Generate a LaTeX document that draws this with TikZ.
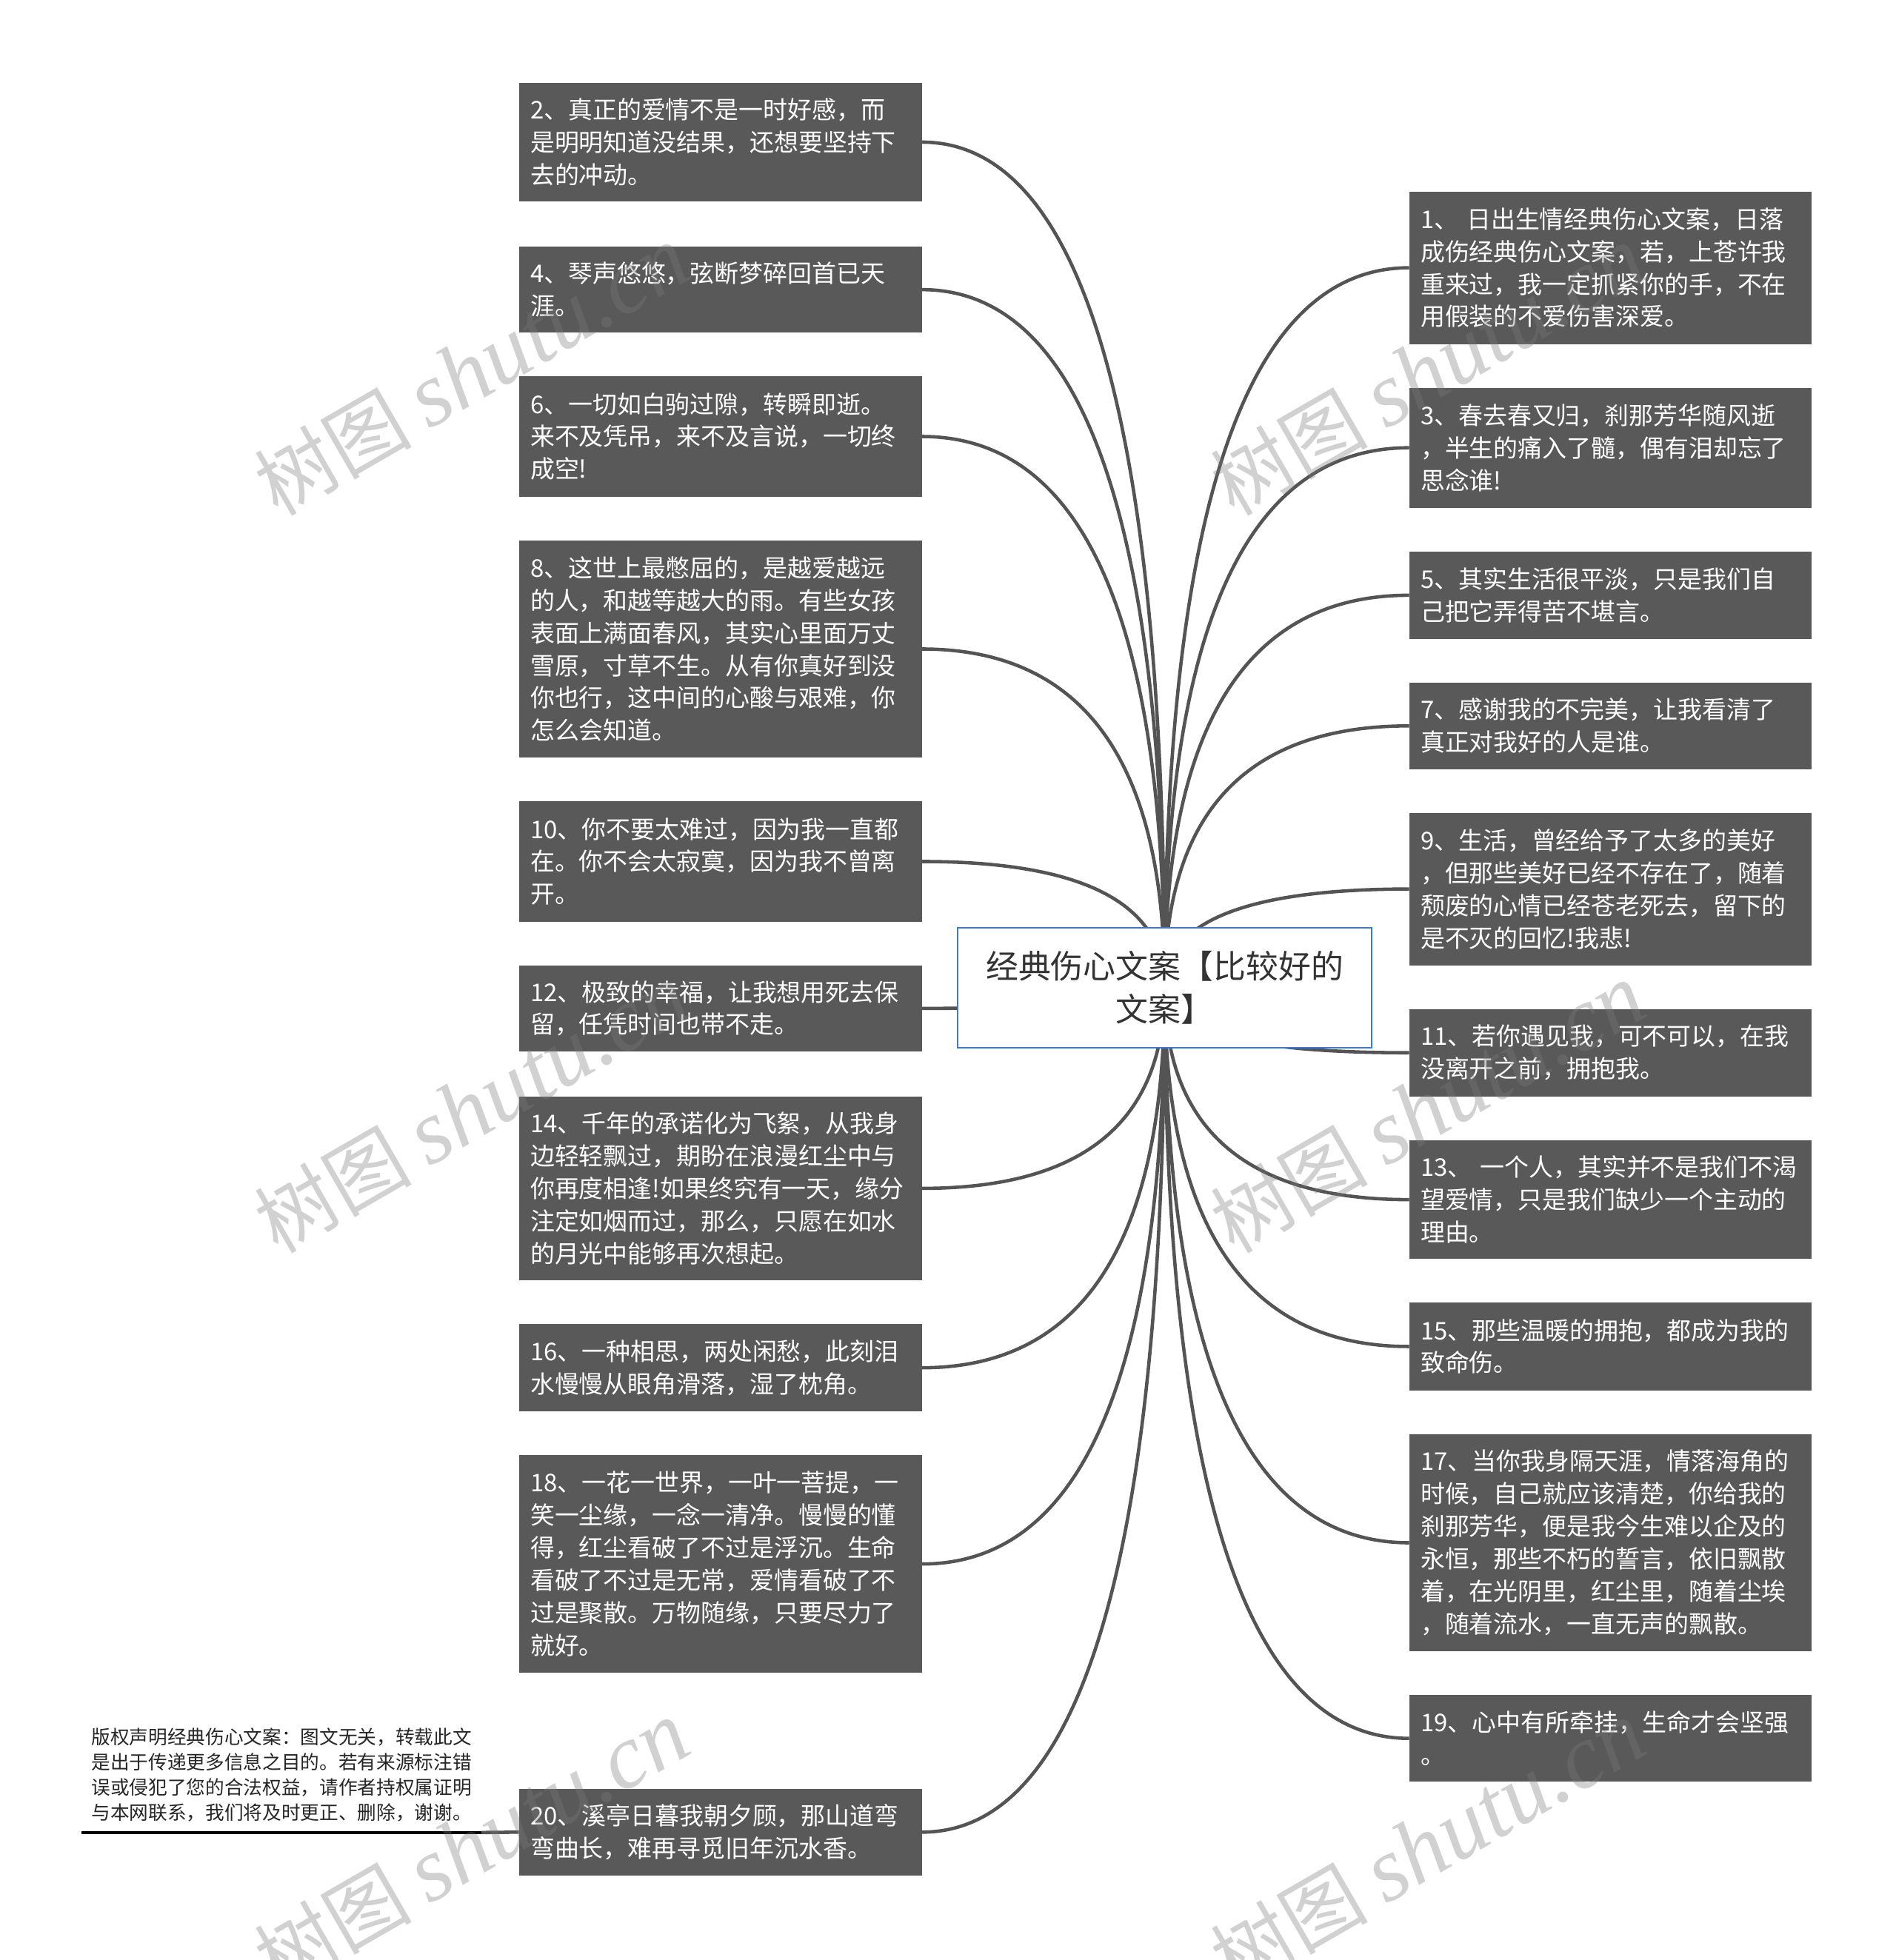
\documentclass[tikz,border=0pt]{standalone}
\usepackage{fontspec}
\setmainfont{Noto Sans CJK SC}
\newfontfamily\wmlatin{Liberation Serif}
\usetikzlibrary{calc,backgrounds}
\definecolor{boxgray}{HTML}{595959}
\definecolor{linegray}{HTML}{545454}
\definecolor{rootblue}{HTML}{3C78D8}
\definecolor{roottext}{HTML}{333333}
\newcommand\mmlink[1]{\draw[conn] (c.center) .. controls ($(c.center)!0.6667!(c.center |- #1)$) and ($(#1)!0.6667!(c.center |- #1)$) .. (#1);}
\begin{document}
\begin{tikzpicture}[x=1pt,y=-1pt,
 leaf/.style={fill=boxgray, text=white, anchor=north west, align=left, text width=304pt, inner xsep=9pt, inner ysep=0pt, font=\fontsize{19.5pt}{26pt}\selectfont},
 root/.style={draw=rootblue, line width=1.2pt, fill=white, text=roottext, align=center, minimum width=331pt, minimum height=96pt, text width=320pt, inner sep=0pt, font=\fontsize{26pt}{34pt}\selectfont},
 conn/.style={draw=linegray, line width=2.7pt},
 wm/.style={text=black!52, opacity=0.34, rotate=30, anchor=base west, inner sep=0pt, font=\fontsize{63pt}{66pt}\selectfont}
]
\useasboundingbox (0,0) rectangle (1516,1568);
\clip (0,0) rectangle (1516,1568);

\node[root] (c) at (931.5,790) {经典伤心文案【比较好的\\文案】};

% left
\node[leaf, minimum height=95pt] (l2) at (415,66) {2、真正的爱情不是一时好感，而\\是明明知道没结果，还想要坚持下\\去的冲动。};
\node[leaf, minimum height=69pt] (l4) at (415,197) {4、琴声悠悠，弦断梦碎回首已天\\涯。};
\node[leaf, minimum height=96pt] (l6) at (415,301) {6、一切如白驹过隙，转瞬即逝。\\来不及凭吊，来不及言说，一切终\\成空!};
\node[leaf, minimum height=174pt] (l8) at (415,432) {8、这世上最憋屈的，是越爱越远\\的人，和越等越大的雨。有些女孩\\表面上满面春风，其实心里面万丈\\雪原，寸草不生。从有你真好到没\\你也行，这中间的心酸与艰难，你\\怎么会知道。};
\node[leaf, minimum height=96pt] (l10) at (415,641) {10、你不要太难过，因为我一直都\\在。你不会太寂寞，因为我不曾离\\开。};
\node[leaf, minimum height=69pt] (l12) at (415,772) {12、极致的幸福，让我想用死去保\\留，任凭时间也带不走。};
\node[leaf, minimum height=147pt] (l14) at (415,877) {14、千年的承诺化为飞絮，从我身\\边轻轻飘过，期盼在浪漫红尘中与\\你再度相逢!如果终究有一天，缘分\\注定如烟而过，那么，只愿在如水\\的月光中能够再次想起。};
\node[leaf, minimum height=70pt] (l16) at (415,1059) {16、一种相思，两处闲愁，此刻泪\\水慢慢从眼角滑落，湿了枕角。};
\node[leaf, minimum height=174pt] (l18) at (415,1164) {18、一花一世界，一叶一菩提，一\\笑一尘缘，一念一清净。慢慢的懂\\得，红尘看破了不过是浮沉。生命\\看破了不过是无常，爱情看破了不\\过是聚散。万物随缘，只要尽力了\\就好。};
\node[leaf, minimum height=69pt] (l20) at (415,1431) {20、溪亭日暮我朝夕顾，那山道弯\\弯曲长，难再寻觅旧年沉水香。};

% right
\node[leaf, minimum height=122pt] (r1) at (1127,153) {1、 日出生情经典伤心文案，日落\\成伤经典伤心文案，若，上苍许我\\重来过，我一定抓紧你的手，不在\\用假装的不爱伤害深爱。};
\node[leaf, minimum height=96pt] (r3) at (1127,310) {3、春去春又归，刹那芳华随风逝\\，半生的痛入了髓，偶有泪却忘了\\思念谁!};
\node[leaf, minimum height=70pt] (r5) at (1127,441) {5、其实生活很平淡，只是我们自\\己把它弄得苦不堪言。};
\node[leaf, minimum height=69pt] (r7) at (1127,546) {7、感谢我的不完美，让我看清了\\真正对我好的人是谁。};
\node[leaf, minimum height=122pt] (r9) at (1127,650) {9、生活，曾经给予了太多的美好\\，但那些美好已经不存在了，随着\\颓废的心情已经苍老死去，留下的\\是不灭的回忆!我悲!};
\node[leaf, minimum height=70pt] (r11) at (1127,807) {11、若你遇见我，可不可以，在我\\没离开之前，拥抱我。};
\node[leaf, minimum height=95pt] (r13) at (1127,912) {13、 一个人，其实并不是我们不渴\\望爱情，只是我们缺少一个主动的\\理由。};
\node[leaf, minimum height=70pt] (r15) at (1127,1042) {15、那些温暖的拥抱，都成为我的\\致命伤。};
\node[leaf, minimum height=174pt] (r17) at (1127,1147) {17、当你我身隔天涯，情落海角的\\时候，自己就应该清楚，你给我的\\刹那芳华，便是我今生难以企及的\\永恒，那些不朽的誓言，依旧飘散\\着，在光阴里，红尘里，随着尘埃\\，随着流水，一直无声的飘散。};
\node[leaf, minimum height=69pt] (r19) at (1127,1356) {19、心中有所牵挂，生命才会坚强\\。};

% copyright note
\node[anchor=north west, inner sep=0pt, align=left, text width=312pt, text=black!85, font=\fontsize{15.2pt}{20pt}\selectfont] (cr) at (73,1382.5) {版权声明经典伤心文案：图文无关，转载此文\\是出于传递更多信息之目的。若有来源标注错\\误或侵犯了您的合法权益，请作者持权属证明\\与本网联系，我们将及时更正、删除，谢谢。};
\coordinate (ulA) at (65,1466);
\coordinate (ulB) at (385,1466);

\begin{scope}[on background layer]
\fill[white] (0,0) rectangle (1516,1568);
\foreach \n in {l2,l4,l6,l8,l10,l12,l14,l16,l18,l20} {\mmlink{\n.east}}
\foreach \n in {r1,r3,r5,r7,r9,r11,r13,r15,r17,r19} {\mmlink{\n.west}}
\draw[conn] (ulB) -- (l20.west);
\draw[black, line width=2.4pt] (ulA) -- (ulB);
\end{scope}

% watermarks
\node[wm] (w1) at (222,414) {树图 {\wmlatin\itshape\fontsize{73pt}{73pt}\selectfont shutu.cn}};
\node[wm] (w2) at (987,414) {树图 {\wmlatin\itshape\fontsize{73pt}{73pt}\selectfont shutu.cn}};
\node[wm] (w3) at (222,1004) {树图 {\wmlatin\itshape\fontsize{73pt}{73pt}\selectfont shutu.cn}};
\node[wm] (w4) at (987,1004) {树图 {\wmlatin\itshape\fontsize{73pt}{73pt}\selectfont shutu.cn}};
\node[wm] (w5) at (222,1594) {树图 {\wmlatin\itshape\fontsize{73pt}{73pt}\selectfont shutu.cn}};
\node[wm] (w6) at (987,1594) {树图 {\wmlatin\itshape\fontsize{73pt}{73pt}\selectfont shutu.cn}};
\end{tikzpicture}
\end{document}
